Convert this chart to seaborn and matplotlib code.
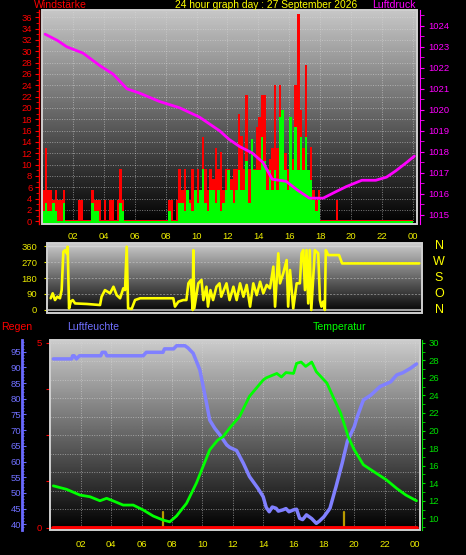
import numpy as np
import pandas as pd
import matplotlib
matplotlib.use("Agg")
import matplotlib.pyplot as plt
import seaborn as sns
from matplotlib.patches import Rectangle
from matplotlib.ticker import MultipleLocator, FixedLocator

sns.set_style("dark")
plt.rcParams['font.family'] = ['Liberation Sans', 'DejaVu Sans']

# ---------------- data ----------------
title = "24 hour graph day : 27 September 2026"
hour_labels = ["02", "04", "06", "08", "10", "12", "14", "16", "18", "20", "22", "00"]
hour_ticks = [2, 4, 6, 8, 10, 12, 14, 16, 18, 20, 22, 24]

# wind (10-minute steps, 24 h)
wind_gust = [
    5.5, 13.0, 5.5, 5.5, 3.7, 5.5,
    3.7, 3.7, 5.5, 0, 0, 0,
    0, 0, 3.7, 3.7, 0, 0,
    0, 5.5, 3.7, 3.7, 3.7, 0,
    3.7, 0, 3.7, 3.7, 0, 3.7,
    9.2, 3.7, 0, 0, 0, 0,
    0, 0, 0, 0, 0, 0,
    0, 0, 0, 0, 0, 0,
    0, 3.7, 3.7, 0, 3.7, 9.2,
    5.5, 9.2, 5.5, 3.7, 9.2, 5.5,
    9.2, 5.5, 14.8, 9.2, 5.5, 9.2,
    7.4, 13.0, 9.2, 12.3, 5.5, 9.2,
    9.2, 7.4, 9.2, 9.2, 19.0, 15.0,
    9.2, 22.2, 9.2, 14.0, 9.2, 16.6,
    18.4, 22.2, 22.2, 9.2, 11.0, 13.0,
    24.0, 13.0, 24.0, 11.0, 12.0, 9.2,
    18.4, 11.0, 24.0, 36.6, 19.6, 13.0,
    27.5, 9.0, 13.1, 5.5, 3.7, 5.5,
    0, 0, 0, 0, 0, 0,
    3.7, 0, 0, 0, 0, 0,
    0, 0, 0, 0, 0, 0,
    0, 0, 0, 0, 0, 0,
    0, 0, 0, 0, 0, 0,
    0, 0, 0, 0, 0, 0,
]
wind_mean = [
    1.8, 3.2, 1.8, 1.8, 3.2, 1.8,
    0, 0, 3.2, 0, 0, 0,
    0, 0, 0, 0, 0, 0,
    0, 3.2, 1.8, 1.8, 0, 0,
    0, 0, 0, 0, 0, 0,
    3.2, 1.8, 0, 0, 0, 0,
    0, 0, 0, 0, 0, 0,
    0, 0, 0, 0, 0, 0,
    0, 1.8, 0, 0, 0, 3.2,
    3.2, 1.8, 5.5, 3.2, 1.8, 5.5,
    3.2, 5.5, 9.2, 3.2, 1.8, 5.5,
    5.5, 3.2, 5.5, 1.8, 3.2, 5.5,
    9.0, 5.5, 3.2, 5.5, 9.0, 5.5,
    5.5, 10.6, 3.2, 14.6, 9.0, 9.0,
    9.0, 14.9, 10.6, 5.5, 9.0, 5.5,
    9.0, 5.5, 18.4, 19.6, 9.0, 5.5,
    18.4, 9.0, 16.6, 9.0, 14.9, 9.0,
    14.9, 9.0, 7.2, 3.7, 1.8, 3.7,
    0, 0, 0, 0, 0, 0,
    0, 0, 0, 0, 0, 0,
    0, 0, 0, 0, 0, 0,
    0, 0, 0, 0, 0, 0,
    0, 0, 0, 0, 0, 0,
    0, 0, 0, 0, 0, 0,
]

# pressure (hPa)
p_hours = [0.2, 1.0, 1.6, 2.65, 3.75, 4.6, 5.5, 6.3, 7.6, 8.9, 10.2, 11.5, 12.1, 12.8,
           13.6, 14.3, 14.9, 15.8, 16.5, 17.3, 18.2, 19.0, 19.7, 20.7, 21.6, 22.3, 22.9, 23.6, 24.1]
p_vals = [1023.6, 1023.3, 1023.0, 1022.7, 1022.1, 1021.7, 1021.0, 1020.8, 1020.4, 1020.1,
          1019.65, 1019.0, 1018.6, 1018.25, 1017.95, 1017.5, 1016.7, 1016.6, 1016.2, 1015.8,
          1015.8, 1016.1, 1016.35, 1016.65, 1016.65, 1016.8, 1017.1, 1017.5, 1017.8]

# wind direction (deg)
d_hours = [0.2, 0.33, 0.48, 0.63, 0.8, 0.91, 1.02, 1.13, 1.24, 1.3, 1.39, 1.5, 1.63, 1.78,
           2.53, 3.4, 3.5, 3.72, 4.05, 4.27, 4.48, 4.7, 4.91, 5.02, 5.13, 5.22, 5.45, 5.67,
           6.0, 8.15, 8.26, 8.48, 8.8, 9.0, 9.13, 9.28, 9.41, 9.45, 9.51, 9.77, 9.98, 10.1,
           10.3, 10.4, 10.56, 10.73, 10.95, 11.15, 11.26, 11.6, 11.8, 12.05, 12.26, 12.48,
           12.7, 12.91, 13.13, 13.34, 13.56, 13.78, 13.99, 14.21, 14.42, 14.64, 14.75, 14.96,
           15.07, 15.28, 15.5, 15.6, 15.72, 15.93, 16.15, 16.36, 16.47, 16.58, 16.69, 16.79,
           16.9, 17.0, 17.1, 17.33, 17.55, 17.66, 17.76, 17.87, 17.98, 18.04, 18.2, 18.5,
           18.9, 19.1, 24.1]
d_vals = [66, 94, 56, 75, 66, 112, 328, 337, 319, 356, 9, 47, 56, 37,
          34, 28, 75, 112, 94, 131, 84, 66, 122, 112, 356, 9, 6, 56,
          66, 66, 19, 47, 56, 56, 150, 169, 0, 337, 9, 150, 169, 56,
          131, 19, 112, 56, 131, 150, 75, 150, 56, 131, 56, 150,
          75, 141, 19, 150, 84, 159, 94, 141, 122, 244, 19, 319,
          150, 206, 281, 19, 225, 9, 150, 150, 319, 337, 112, 337,
          37, 337, 0, 337, 319, 56, 19, 47, 0, 337, 309, 309,
          309, 262, 262]

# humidity (%)
h_hours = [0.18, 1.39, 1.45, 1.55, 1.7, 1.9, 3.3, 3.4, 3.6, 3.7, 6.1, 6.3, 7.4, 7.5, 8.1, 8.3,
           8.85, 9.05, 9.39, 9.83, 10.05, 10.27, 10.48, 10.81, 11.15, 11.6, 11.8, 12.25, 12.7,
           13.1, 13.65, 14.0, 14.2, 14.4, 14.6, 14.85, 15.0, 15.3, 15.5, 15.7, 16.0, 16.2, 16.4,
           16.6, 16.85, 17.0, 17.2, 17.5, 17.7, 18.0, 18.4, 18.8, 19.2, 19.55, 20.0, 20.2, 20.6,
           21.1, 21.7, 22.4, 22.8, 23.2, 23.7, 24.1]
h_vals = [92.7, 92.7, 93.7, 93.7, 92.7, 93.7, 93.7, 94.8, 94.8, 93.7, 93.7, 94.8, 94.8, 95.9,
          95.9, 96.9, 96.9, 96.2, 94.5, 89.2, 83.9, 78.6, 73.2, 70.6, 68.5, 65.3, 64.5, 63.5,
          59.4, 55.2, 51.5, 48.8, 45.4, 44.0, 45.5, 45.1, 44.2, 44.6, 45.0, 44.0, 44.6, 44.8,
          41.9, 41.5, 43.0, 42.5, 41.8, 40.3, 41.0, 42.4, 45.1, 52.0, 59.4, 66.5, 71.1, 74.3,
          79.6, 81.2, 83.9, 85.4, 87.6, 88.3, 89.7, 91.1]

# temperature (degC)
t_hours = [0.18, 1.06, 1.93, 2.59, 3.25, 3.69, 4.24, 4.78, 5.44, 6.1, 6.76, 7.41, 7.85, 8.29,
           8.95, 9.6, 10.48, 11.0, 11.36, 11.8, 12.45, 13.1, 14.0, 14.2, 14.9, 15.2, 15.5, 16.0,
           16.2, 16.5, 16.8, 17.2, 17.5, 18.2, 18.6, 19.1, 19.4, 19.6, 20.0, 20.6, 21.3, 22.1,
           22.8, 23.4, 24.1]
t_vals = [13.7, 13.3, 12.65, 12.46, 12.0, 12.28, 11.9, 11.51, 11.51, 10.95, 10.26, 9.8, 9.6,
          10.26, 11.7, 14.0, 17.8, 18.9, 19.3, 20.3, 21.6, 23.9, 25.75, 26.0, 26.5, 26.1, 26.6,
          26.5, 27.65, 27.8, 27.3, 27.8, 26.7, 25.4, 23.85, 22.0, 20.4, 19.3, 17.8, 16.1, 15.3,
          14.4, 13.4, 12.65, 12.0]

# rain (mm)
r_hours = [0.18, 24.1]
r_vals = [0.0, 0.0]
marker_hours = [7.37, 7.37, 19.3, 19.3]
marker_vals = [-0.06, 0.43, -0.06, 0.43]

# ---------------- figure ----------------
W, H = 466, 555
fig = plt.figure(figsize=(W / 100, H / 100), dpi=100, facecolor="black")

def rect(x0, y0, x1, y1):
    return [x0 / W, 1 - y1 / H, (x1 - x0) / W, (y1 - y0) / H]

GRID = dict(color="#d8d8d8", lw=0.7, ls=(0, (1, 1.5)), alpha=0.55, zorder=1)
TICKFS = 6.8
YEL = "#f0f000"

def background(ax, top=0.78, bottom=0.0):
    g = np.linspace(top, bottom, 256).reshape(-1, 1)
    ax.imshow(g, cmap="gray", vmin=0, vmax=1, aspect="auto", extent=[0, 1, 0, 1],
              transform=ax.transAxes, zorder=0, interpolation="bilinear")
    ax.set_facecolor("black")
    ax.grid(False)
    for s in ax.spines.values():
        s.set_visible(False)
    ax.add_patch(Rectangle((0, 0), 1, 1, transform=ax.transAxes, fill=False,
                           ec="#d0d0d0", lw=1.4, zorder=6, clip_on=False))

def hide_spines(ax, keep=None):
    for k, s in ax.spines.items():
        s.set_visible(k == keep)

# ---------- panel 1: wind + pressure ----------
ax1 = fig.add_axes(rect(42, 10, 417, 224))
background(ax1)
xlim1 = (0, 24.27)
ylim1 = (-0.48, 37.27)
ax1.set_xlim(*xlim1); ax1.set_ylim(*ylim1)
for hx in hour_ticks:
    ax1.axvline(hx, **GRID)
for yy in range(2, 38, 2):
    ax1.axhline(yy, **GRID)

wt = np.arange(len(wind_gust)) / 6.0
gust = np.array(wind_gust); mean = np.array(wind_mean)
ax1.bar(wt, np.maximum(gust, 0.3) - ylim1[0], bottom=ylim1[0], width=1 / 6, align="edge",
        color="#ff0000", linewidth=0, zorder=2)
ax1.bar(wt, np.maximum(mean, -0.1) - ylim1[0], bottom=ylim1[0], width=1 / 6, align="edge",
        color="#00ff00", linewidth=0, zorder=3)

ax1.spines["left"].set_visible(True)
ax1.spines["left"].set_color("#ff0000")
ax1.spines["left"].set_linewidth(1)
ax1.spines["left"].set_position(("outward", 2))
ax1.yaxis.set_major_locator(MultipleLocator(2))
ax1.yaxis.set_minor_locator(MultipleLocator(1))
ax1.tick_params(axis="y", which="both", colors="#ff0000", labelcolor="#ff0000",
                labelsize=TICKFS, direction="out", left=True, pad=2)
ax1.tick_params(axis="y", which="major", length=3)
ax1.tick_params(axis="y", which="minor", length=2)
ax1.set_xticks(hour_ticks)
ax1.set_xticklabels(hour_labels)
ax1.tick_params(axis="x", colors=YEL, labelsize=TICKFS, length=0, pad=6, bottom=True)
ax1.set_ylabel(""); ax1.set_xlabel("")

axP = ax1.twinx()
hide_spines(axP, "right")
sns.lineplot(x=p_hours, y=p_vals, ax=axP, color="#ff00ff", lw=2, errorbar=None)
axP.set_ylim(1014.57, 1024.75)
axP.set_xlim(*xlim1)
axP.spines["right"].set_color("#ff00ff")
axP.spines["right"].set_position(("outward", 2))
axP.yaxis.set_major_locator(MultipleLocator(1))
axP.yaxis.set_minor_locator(MultipleLocator(0.5))
axP.tick_params(axis="y", which="both", colors="#ff00ff", labelcolor="#ff00ff",
                labelsize=TICKFS, direction="out", right=True, length=3, pad=3)
axP.set_ylabel(""); axP.grid(False)

# ---------- panel 2: wind direction ----------
ax2 = fig.add_axes(rect(47, 243, 422, 313))
background(ax2, top=0.8, bottom=0.0)
ax2.set_xlim(-0.04, 24.28)
ax2.set_ylim(-16.9, 376.9)
for yy in [90, 180, 270]:
    ax2.axhline(yy, color="#d0d0d0", lw=0.7, ls=(0, (2, 1.5)), alpha=0.5, zorder=1)
ax2.axhline(0, color="#c8c8c8", lw=1.5, alpha=0.8, zorder=1)
ax2.axhline(360, color="#e0e0e0", lw=1.0, alpha=0.6, zorder=1)
sns.lineplot(x=d_hours, y=d_vals, ax=ax2, color="#ffff00", lw=1.9, errorbar=None,
             sort=False, zorder=4)
ax2.set_yticks([0, 90, 180, 270, 360])
ax2.set_xticks([])
ax2.tick_params(axis="y", colors="#e8e800", labelcolor="#e8e800", labelsize=TICKFS,
                direction="out", length=2, left=True, pad=5)
ax2.set_ylabel(""); ax2.set_xlabel("")
for lab, yy in zip(["N", "W", "S", "O", "N"], [246, 262, 278, 294, 310]):
    fig.text(439 / W, 1 - yy / H, lab, color="#ffff00", fontsize=9, ha="center", va="center")

# ---------- panel 3: rain / humidity / temperature ----------
ax3 = fig.add_axes(rect(50, 340, 420, 530))
background(ax3, top=0.8, bottom=0.0)
xlim3 = (-0.04, 24.33)
ax3.set_xlim(*xlim3)
ax3.set_ylim(-0.062, 5.07)
for hx in hour_ticks:
    ax3.axvline(hx, **GRID)
for yy in np.arange(0.5, 5.01, 0.5):
    ax3.axhline(yy, **GRID)
ax3.spines["left"].set_visible(False)
ax3.set_yticks([0, 1.25, 2.5, 3.75, 5])
ax3.set_yticklabels(["0", "", "", "", "5"])
ax3.tick_params(axis="y", colors="#ff0000", labelcolor="#ff0000", labelsize=TICKFS,
                direction="out", length=3, left=True, pad=3)
ax3.set_xticks(hour_ticks)
ax3.set_xticklabels(hour_labels)
ax3.tick_params(axis="x", colors=YEL, labelsize=TICKFS, length=0, pad=7, bottom=True)
sns.lineplot(x=r_hours, y=r_vals, ax=ax3, color="#ff0000", lw=2.8, errorbar=None, zorder=4)
for i in range(0, len(marker_hours), 2):
    ax3.plot(marker_hours[i:i + 2], marker_vals[i:i + 2], color="#b89a00", lw=1.6, zorder=3)
ax3.set_ylabel(""); ax3.set_xlabel("")

axH = ax3.twinx()
hide_spines(axH, "left")
axH.yaxis.tick_left()
axH.spines["left"].set_position(("outward", 20))
axH.spines["left"].set_color("#6a6aff")
axH.spines["left"].set_linewidth(2)
sns.lineplot(x=h_hours, y=h_vals, ax=axH, color="#8080ff", lw=2.5, errorbar=None)
axH.set_xlim(*xlim3)
axH.set_ylim(38.18, 98.73)
axH.yaxis.set_major_locator(MultipleLocator(5))
axH.yaxis.set_minor_locator(MultipleLocator(1))
axH.tick_params(axis="y", which="both", colors="#6a6aff", labelcolor="#7070ff",
                labelsize=TICKFS, direction="in", left=True, right=False, pad=1)
axH.tick_params(axis="y", which="major", length=3)
axH.tick_params(axis="y", which="minor", length=1.5)
axH.set_ylabel(""); axH.grid(False)

axT = ax3.twinx()
hide_spines(axT, "right")
axT.spines["right"].set_color("#00e000")
axT.spines["right"].set_position(("outward", 1.5))
sns.lineplot(x=t_hours, y=t_vals, ax=axT, color="#00ff00", lw=2, errorbar=None)
axT.set_xlim(*xlim3)
axT.set_ylim(8.67, 30.31)
axT.yaxis.set_major_locator(MultipleLocator(2))
axT.yaxis.set_minor_locator(MultipleLocator(1))
axT.tick_params(axis="y", which="both", colors="#00e000", labelcolor="#00e000",
                labelsize=TICKFS, direction="out", right=True, length=2.5, pad=2)
axT.set_ylabel(""); axT.grid(False)

# ---------- texts ----------
def ftext(x, y, s, color, ha="left", fs=7.6):
    fig.text(x / W, 1 - y / H, s, color=color, fontsize=fs, ha=ha, va="center")

ftext(34, 5.5, "Windstärke", "#ff0000")
ftext(266.5, 5.5, title, "#ffff00", ha="center", fs=7.4)
ftext(416, 5.5, "Luftdruck", "#ff00ff", ha="right")
ftext(1, 327, "Regen", "#ff0000")
ftext(67, 327, "Luftfeuchte", "#7070ff")
ftext(313, 327, "Temperatur", "#00ff00")

fig.savefig("out.png", dpi=100, facecolor="black")
